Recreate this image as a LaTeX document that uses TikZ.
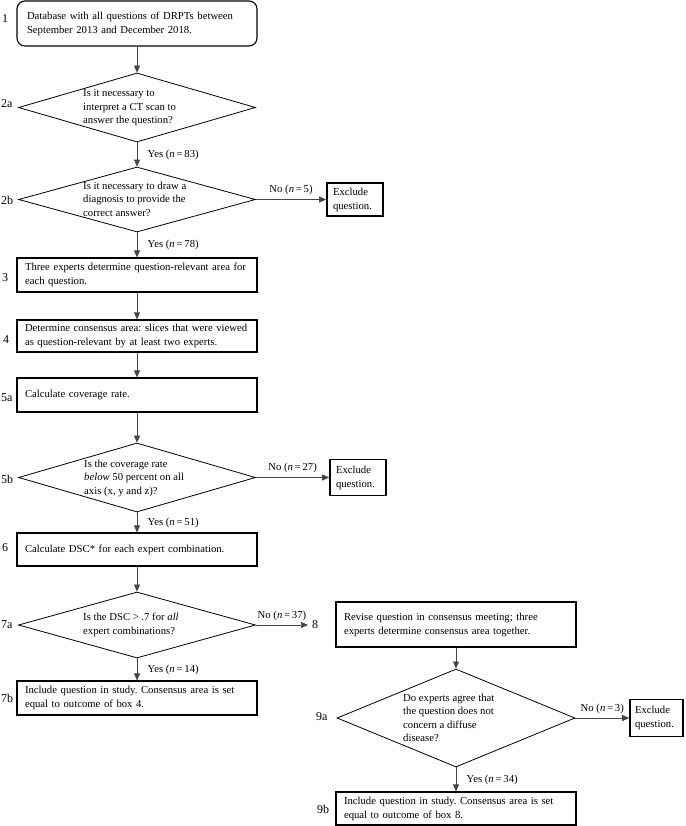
\documentclass[tikz,border=0pt]{standalone}
\usepackage{fontspec}
\setmainfont{Liberation Serif}
\usetikzlibrary{positioning,arrows.meta,shapes.geometric}
\definecolor{arrowgray}{RGB}{70,70,70}
\newcommand{\flowfont}{\fontsize{10.7}{14}\selectfont}
\newcommand{\askfont}{\fontsize{10.7}{13.5}\selectfont}
\newcommand{\nval}[1]{(\textit{n}\,=\,#1)}
\frenchspacing

\begin{document}
\begin{tikzpicture}[x=1pt,y=-1pt,
    stepbox/.style={draw,line width=1.1pt,align=left,inner xsep=8pt,text width=224pt,font=\flowfont},
    decision/.style={draw,diamond,line width=0.8pt,inner sep=0pt,minimum width=237pt},
    asktext/.style={anchor=west,align=left,inner sep=0pt,font=\askfont},
    exclbox/.style={draw,line width=1.6pt,align=left,inner xsep=6pt,text width=44pt,font=\flowfont},
    steplab/.style={anchor=west,inner sep=0pt,font=\fontsize{12}{14}\selectfont},
    branch/.style={font=\flowfont},
    flowarrow/.style={draw=arrowgray,line width=0.7pt,-{Triangle[length=7pt,width=6pt]}}]
  \useasboundingbox (0,0) rectangle (685,826);

  % left column
  \node[stepbox,rounded corners=8pt,inner xsep=10pt,text width=220pt,minimum height=45pt] (b1) at (137,23.5)
    {Database with all questions of DRPTs between\\September 2013 and December 2018.};
  \node[decision,minimum height=69pt] (d2a) at (137,107.5) {};
  \node[asktext] (t2a) at (83,108) {Is it necessary to\\interpret a CT scan to\\answer the question?};
  \node[decision,minimum height=65pt] (d2b) at (137,199.5) {};
  \node[asktext] (t2b) at (83,199) {Is it necessary to draw a\\diagnosis to provide the\\correct answer?};
  \node[stepbox,minimum height=34pt] (b3) at (137,275)
    {Three experts determine question-relevant area for\\each question.};
  \node[stepbox,minimum height=32pt] (b4) at (137,336)
    {Determine consensus area: slices that were viewed\\as question-relevant by at least two experts.};
  \node[stepbox,minimum height=34pt] (b5a) at (137,395) {Calculate coverage rate.};
  \node[decision,minimum height=69pt] (d5b) at (137,477.5) {};
  \node[asktext] (t5b) at (84,478) {Is the coverage rate\\\textit{below} 50 percent on all\\axis (x, y and z)?};
  \node[stepbox,minimum height=33pt] (b6) at (137,549.5) {Calculate DSC* for each expert combination.};
  \node[decision,minimum height=66pt] (d7a) at (137,625) {};
  \node[asktext] (t7a) at (83,625) {Is the DSC > .7 for \textit{all}\\expert combinations?};
  \node[stepbox,minimum height=34pt] (b7b) at (137,698)
    {Include question in study. Consensus area is set\\equal to outcome of box 4.};

  % exclusions
  \node[exclbox,minimum height=33pt] (ex1) at (355,199.5) {Exclude\\question.};
  \node[exclbox,minimum height=36pt] (ex2) at (358,477.5) {Exclude\\question.};
  \node[exclbox,minimum height=37pt,inner xsep=5pt,text width=43pt] (ex3) at (656.5,718) {Exclude\\question.};

  % right column
  \node[stepbox,minimum height=45pt] (b8) at (456,624.5)
    {Revise question in consensus meeting; three\\experts determine consensus area together.};
  \node[decision,minimum width=238pt,minimum height=98pt] (d9a) at (456,718) {};
  \node[asktext] (t9a) at (403,718) {Do experts agree that\\the question does not\\concern a diffuse\\disease?};
  \node[stepbox,minimum height=33pt] (b9b) at (456,808.5)
    {Include question in study. Consensus area is set\\equal to outcome of box 8.};

  % step numbers
  \node[steplab] (n1) at (2,19) {1};
  \node[steplab] (n2a) at (1,104) {2a};
  \node[steplab] (n2b) at (1,200) {2b};
  \node[steplab] (n3) at (2,278) {3};
  \node[steplab] (n4) at (3,340) {4};
  \node[steplab] (n5a) at (1,398) {5a};
  \node[steplab] (n5b) at (1,479) {5b};
  \node[steplab] (n6) at (2,548) {6};
  \node[steplab] (n7a) at (1,625) {7a};
  \node[steplab] (n7b) at (1,698) {7b};
  \node[steplab,inner xsep=4pt] (n8) at (308,625) {8};
  \node[steplab] (n9a) at (316,717) {9a};
  \node[steplab] (n9b) at (317,809) {9b};

  % connectors
  \draw[flowarrow] (b1) -- (d2a);
  \draw[flowarrow] (d2a) -- node[branch,right=7pt] {Yes \nval{83}} (d2b);
  \draw[flowarrow] (d2b) -- node[branch,above=1pt] {No \nval{5}} (ex1);
  \draw[flowarrow] (d2b) -- node[branch,right=7pt] {Yes \nval{78}} (b3);
  \draw[flowarrow] (b3) -- (b4);
  \draw[flowarrow] (b4) -- (b5a);
  \draw[flowarrow] (b5a) -- (d5b);
  \draw[flowarrow] (d5b) -- node[branch,above=1pt] {No \nval{27}} (ex2);
  \draw[flowarrow] (d5b) -- node[branch,right=7pt] {Yes \nval{51}} (b6);
  \draw[flowarrow] (b6) -- (d7a);
  \draw[flowarrow] (d7a) -- node[branch,above=1pt] {No \nval{37}} (n8.west);
  \draw[flowarrow] (d7a) -- node[branch,right=7pt] {Yes \nval{14}} (b7b);
  \draw[flowarrow] (b8) -- (d9a);
  \draw[flowarrow] (d9a) -- node[branch,above=1pt] {No \nval{3}} (ex3);
  \draw[flowarrow] (d9a) -- node[branch,right=7pt] {Yes \nval{34}} (b9b);
\end{tikzpicture}
\end{document}
